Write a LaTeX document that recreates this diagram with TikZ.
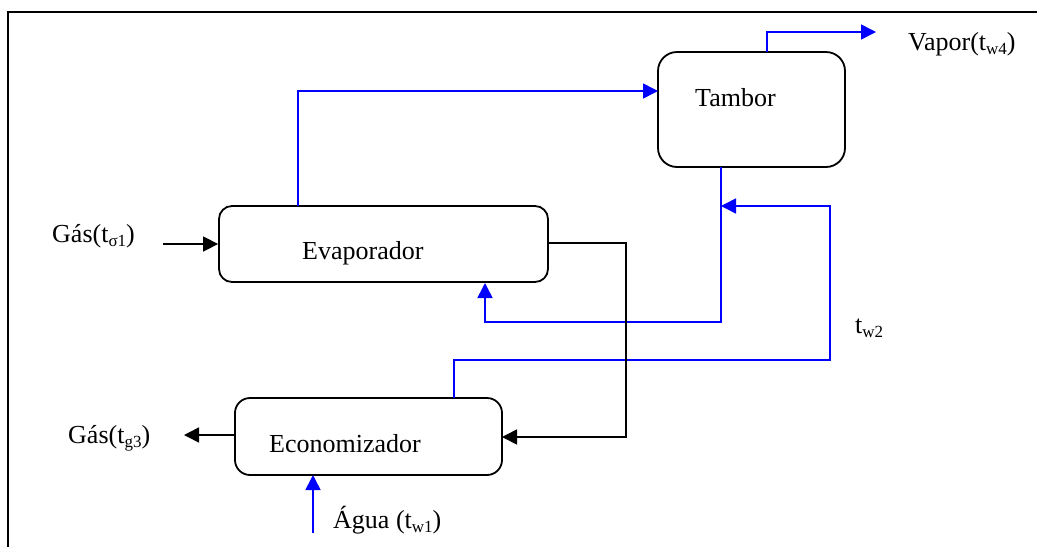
\documentclass[tikz,border=0pt]{standalone}
\usepackage{fontspec}
\setmainfont{Liberation Serif}
\usetikzlibrary{arrows.meta}
\definecolor{flowblue}{RGB}{0,0,255}
\newcommand{\lsub}[1]{\raisebox{-0.35ex}{\fontsize{17}{17}\selectfont #1}}
\begin{document}
\begin{tikzpicture}[x=1pt,y=-1pt,
  box/.style={draw=black, line width=1.8pt, inner sep=0pt},
  lbl/.style={anchor=base west, inner sep=0pt, font=\fontsize{26}{30}\selectfont},
  bflow/.style={draw=flowblue, line width=1.6pt},
  kflow/.style={draw=black, line width=1.6pt},
  tip/.style={-{Triangle[length=15pt,width=15pt]}},
  frame/.style={draw=black, line width=1.4pt}]
\useasboundingbox (0,0) rectangle (1037,547);
% frame
\draw[frame] (8,547) -- (8,12) -- (1037,12);
% boxes
\node[box, rounded corners=13pt, minimum width=329pt, minimum height=76pt] (evap) at (383.5,244) {};
\node[box, rounded corners=19pt, minimum width=187pt, minimum height=115pt] (tamb) at (751.5,109.5) {};
\node[box, rounded corners=15pt, minimum width=267pt, minimum height=77pt] (econ) at (368.5,436.5) {};
% box texts
\node[lbl] (evapT) at (302,259) {Evaporador};
\node[lbl] (tambT) at (695,106) {Tambor};
\node[lbl] (econT) at (269,452) {Economizador};
% outer labels
\node[lbl] (gas1) at (52,242) {Gás(t\lsub{σ1})};
\node[lbl] (gas3) at (68,443) {Gás(t\lsub{g3})};
\node[lbl] (agua) at (333,528) {Água (t\lsub{w1})};
\node[lbl] (vapor) at (908,50) {Vapor(t\lsub{w4})};
\node[lbl] (tw2) at (855,333) {t\lsub{w2}};
% coordinates
\coordinate (gin) at (163,244);
\coordinate (evapTop) at (298,206);
\coordinate (tambIn) at (658,91);
\coordinate (tambTop) at (767,52);
\coordinate (vapOut) at (876,32);
\coordinate (tambBot) at (721,167);
\coordinate (retCorner) at (721,322);
\coordinate (evapBot) at (485,283);
\coordinate (econTop) at (454,398);
\coordinate (econRise) at (454,360);
\coordinate (tw2Corner) at (830,206);
\coordinate (tw2In) at (721,206);
\coordinate (evapRight) at (548,243);
\coordinate (gDown) at (626,437);
\coordinate (econRight) at (502,437);
\coordinate (econLeft) at (235,435);
\coordinate (gOut) at (184,435);
\coordinate (wIn) at (313,533);
\coordinate (econBot) at (313,475);
% connectors
\draw[kflow, tip] (gin) -- (evap.west);
\draw[bflow, tip] (evapTop) |- (tambIn);
\draw[bflow, tip] (tambTop) |- (vapOut);
\draw[bflow, tip] (tambBot) -- (retCorner) -| (evapBot);
\draw[bflow, tip] (econTop) -- (econRise) -| (tw2Corner) -- (tw2In);
\draw[kflow, tip] (evapRight) -| (gDown) -- (econRight);
\draw[kflow, tip] (econLeft) -- (gOut);
\draw[bflow, tip] (wIn) -- (econBot);
\end{tikzpicture}
\end{document}
